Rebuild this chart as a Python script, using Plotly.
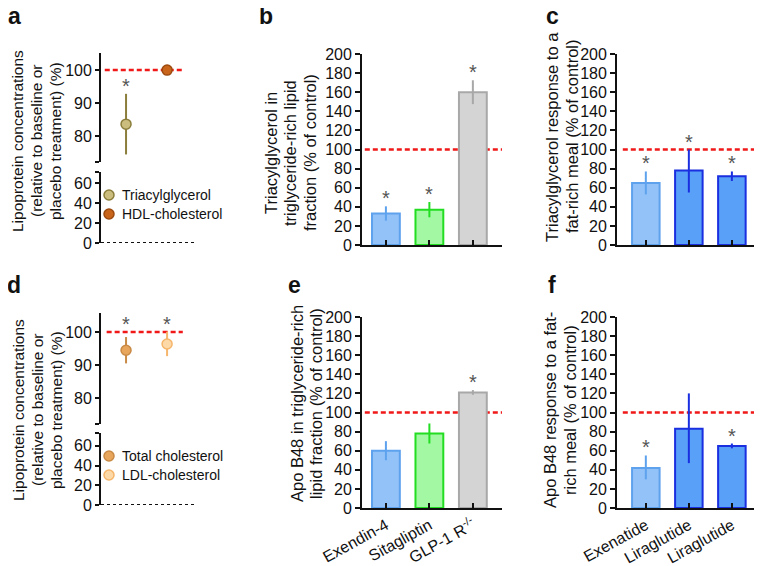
import plotly.graph_objects as go

# the page body adds an 8px margin, so the figure is a bit smaller than the window
OFF = 8
W, H = 762 - OFF, 566 - OFF

# ---- data ----
# panel a
a_names = ['Triacylglycerol', 'HDL-cholesterol']
a_vals = [83.6, 100]
a_err = [9.2, 1.0]
a_star = [True, False]

# panel d
d_names = ['Total cholesterol', 'LDL-cholesterol']
d_vals = [94.5, 96.4]
d_err = [4.0, 3.7]
d_star = [True, True]

# panels b / e
be_cats = ['Exendin-4', 'Sitagliptin', 'GLP-1 R<sup>-/-</sup>']
b_vals = [33, 37, 160]
b_err = [7.5, 8, 12.5]
b_star = [True, True, True]
e_vals = [60, 78, 121]
e_err = [10, 10.5, 2.5]
e_star = [False, False, True]

# panels c / f
cf_cats = ['Exenatide', 'Liraglutide', 'Liraglutide']
c_vals = [65, 78, 72]
c_err_up = [12, 22, 5]
c_err_dn = [12, 23, 5]
c_star = [True, True, True]
f_vals = [42, 83, 65]
f_err_up = [13, 37, 2.5]
f_err_dn = [12, 36, 2.5]
f_star = [True, False, True]

y_ticks = list(range(0, 201, 20))

# ---- styles ----
FONT = 'Arial, Liberation Sans, sans-serif'
a_fill = ['#cbbd7e', '#c8651b']
a_line = ['#8b7d3a', '#9c4a0e']
d_fill = ['#e8a55c', '#fdd9a8']
d_line = ['#c98a45', '#f5b56a']
be_fill = ['#93c2f8', '#a3f9a3', '#d4d4d4']
be_line = ['#5ea2ee', '#22dd22', '#a8a8a8']
cf_fill = ['#93c2f8', '#58a0f8', '#58a0f8']
cf_line = ['#5ea2ee', '#1a2fe0', '#1a2fe0']


def px(p):
    return (p - OFF) / W


def py(p):
    return 1 - (p - OFF) / H


def xd(p0, p1):
    return [px(p0), min(px(p1), 1)]


def yd(top, bottom):
    return [py(bottom), py(top)]


fig = go.Figure()

# scatter panels a and d
for names, vals, errs, fills, lines, xa, ya in [
    (a_names, a_vals, a_err, a_fill, a_line, 'x', 'y'),
    (d_names, d_vals, d_err, d_fill, d_line, 'x2', 'y3'),
]:
    for i, n in enumerate(names):
        fig.add_trace(go.Scatter(
            x=[i + 1], y=[vals[i]], mode='markers', name=n, showlegend=False,
            xaxis=xa, yaxis=ya,
            marker=dict(size=10, color=fills[i], line=dict(color=lines[i], width=1.5)),
            error_y=dict(type='data', array=[errs[i]], color=lines[i], thickness=2, width=0),
        ))

# bar panels
for cats, vals, up, dn, fills, lines, xa, ya in [
    (be_cats, b_vals, b_err, b_err, be_fill, be_line, 'x3', 'y5'),
    (cf_cats, c_vals, c_err_up, c_err_dn, cf_fill, cf_line, 'x4', 'y6'),
    (be_cats, e_vals, e_err, e_err, be_fill, be_line, 'x5', 'y7'),
    (cf_cats, f_vals, f_err_up, f_err_dn, cf_fill, cf_line, 'x6', 'y8'),
]:
    for i in range(len(cats)):
        fig.add_trace(go.Bar(
            x=[i], y=[vals[i]], width=0.64, showlegend=False, xaxis=xa, yaxis=ya,
            marker=dict(color=fills[i], line=dict(color=lines[i], width=2)),
            error_y=dict(type='data', array=[up[i]], arrayminus=[dn[i]],
                         color=lines[i], thickness=2, width=0),
        ))

axis_common = dict(showgrid=False, zeroline=False, showline=True, linecolor='#111',
                   linewidth=1.8, ticks='outside', ticklen=5, tickwidth=1.8, tickcolor='#111',
                   tickfont=dict(family=FONT, size=16, color='#111'), fixedrange=True,
                   automargin=False)
hidden_x = dict(showgrid=False, zeroline=False, showline=False, showticklabels=False,
                ticks='', range=[0.39, 2.68], domain=xd(101, 195), automargin=False)

layout = dict(
    width=W, height=H, margin=dict(l=0, r=0, t=0, b=0),
    paper_bgcolor='white', plot_bgcolor='white', barmode='overlay',
    font=dict(family=FONT, color='#111'),
    xaxis=dict(hidden_x, anchor='y2'),
    yaxis=dict(axis_common, domain=yd(53, 162), range=[72.1, 105.2], anchor='x',
               tickvals=[72.1, 80, 90, 100], ticktext=['', '80', '90', '100'], ticklen=4),
    yaxis2=dict(axis_common, domain=yd(172, 243), range=[0, 71], anchor='x',
                tickvals=[0, 20, 40, 60, 71], ticktext=['0', '20', '40', '60', ''], ticklen=4),
    xaxis2=dict(hidden_x, anchor='y4'),
    yaxis3=dict(axis_common, domain=yd(313, 424), range=[72.1, 105.8], anchor='x2',
                tickvals=[72.1, 80, 90, 100], ticktext=['', '80', '90', '100'], ticklen=4),
    yaxis4=dict(axis_common, domain=yd(433, 505), range=[0, 73], anchor='x2',
                tickvals=[0, 20, 40, 60, 73], ticktext=['0', '20', '40', '60', ''], ticklen=4),
)

bar_axes = [
    ('xaxis3', 'yaxis5', 'x3', 'y5', xd(362, 502), yd(54, 245), [-0.55, 2.67], be_cats, False),
    ('xaxis4', 'yaxis6', 'x4', 'y6', xd(617, 762), yd(54, 245), [-0.67, 2.7], cf_cats, False),
    ('xaxis5', 'yaxis7', 'x5', 'y7', xd(362, 502), yd(317, 508), [-0.55, 2.67], be_cats, True),
    ('xaxis6', 'yaxis8', 'x6', 'y8', xd(617, 762), yd(317, 508), [-0.67, 2.7], cf_cats, True),
]
for xk, yk, xa, ya, xdom, ydom, xr, cats, labels in bar_axes:
    layout[xk] = dict(axis_common, domain=xdom, range=xr, anchor=ya, ticks='inside',
                      tickvals=list(range(len(cats))), ticktext=cats,
                      showticklabels=labels, tickangle=-29)
    layout[yk] = dict(axis_common, domain=ydom, range=[0, 200], anchor=xa,
                      tickvals=y_ticks)

fig.update_layout(**layout)

# red dashed reference lines at 100%
red = dict(color='#f01818', width=2.5, dash='5px,3px')
for xa, ya, x0 in [('x', 'y', 0.04), ('x2', 'y3', 0.06), ('x3', 'y5', 0.02),
                   ('x4', 'y6', 0.04), ('x5', 'y7', 0.02), ('x6', 'y8', 0.04)]:
    x1 = 0.87 if xa in ('x', 'x2') else 1
    fig.add_shape(type='line', xref=xa + ' domain', yref=ya, x0=x0, x1=x1, y0=100, y1=100,
                  line=red, layer='below')

# dotted baselines for panels a and d
for xa, ya in [('x', 'y2'), ('x2', 'y4')]:
    fig.add_shape(type='line', xref=xa + ' domain', yref=ya, x0=0, x1=1, y0=0, y1=0,
                  line=dict(color='#111', width=2, dash='dot'))

# significance stars
star_font = dict(family=FONT, size=20, color='#555')
for vals, errs, stars, xa, ya in [(a_vals, a_err, a_star, 'x', 'y')]:
    for i, s in enumerate(stars):
        if s:
            fig.add_annotation(x=i + 1, y=vals[i] + errs[i], xref=xa, yref=ya, text='*',
                               showarrow=False, yanchor='bottom', yshift=-5, font=star_font)
for stars, xa, ya in [(d_star, 'x2', 'y3')]:
    for i, s in enumerate(stars):
        if s:
            fig.add_annotation(x=i + 1, y=100, xref=xa, yref=ya, text='*',
                               showarrow=False, yanchor='bottom', yshift=-5, font=star_font)
for vals, up, stars, xa, ya in [(b_vals, b_err, b_star, 'x3', 'y5'),
                                (c_vals, c_err_up, c_star, 'x4', 'y6'),
                                (e_vals, e_err, e_star, 'x5', 'y7'),
                                (f_vals, f_err_up, f_star, 'x6', 'y8')]:
    for i, s in enumerate(stars):
        if s:
            fig.add_annotation(x=i, y=vals[i] + up[i], xref=xa, yref=ya, text='*',
                               showarrow=False, yanchor='bottom', yshift=-5, font=star_font)

# manual legends for a and d
for names, fills, lines, y0 in [(a_names, a_fill, a_line, 195), (d_names, d_fill, d_line, 456)]:
    for i, n in enumerate(names):
        yy = py(y0 + 19 * i)
        fig.add_shape(type='circle', xref='paper', yref='paper', xsizemode='pixel',
                      ysizemode='pixel', xanchor=px(109), yanchor=yy, x0=-5, x1=5, y0=-5, y1=5,
                      fillcolor=fills[i], line=dict(color=lines[i], width=1.5))
        fig.add_annotation(x=px(120), y=yy, xref='paper', yref='paper', text=n,
                           showarrow=False, xanchor='left', yanchor='middle',
                           font=dict(family=FONT, size=14, color='#111'))

# y axis titles, one annotation per line to get the tight line spacing
ad_lines = ['Lipoprotein concentrations', '(relative to baseline or', 'placebo treatment) (%)']
titles = [
    (ad_lines, [18, 37, 56], 141, 15.5),
    (ad_lines, [18, 37, 56], 410, 15.5),
    (['Triacylglycerol in', 'triglyceride-rich lipid', 'fraction (% of control)'],
     [271, 290, 310], 153, 16.5),
    (['Triacylglycerol response to a', 'fat-rich meal (% of control)'], [552, 572], 137, 16.5),
    (['Apo B48 in triglyceride-rich', 'lipid fraction (% of control)'], [297, 316], 404, 16.5),
    (['Apo B48 response to a fat-', 'rich meal (% of control)'], [550, 570], 410, 16.5),
]
for lines_, xs, ty, size in titles:
    for t, tx in zip(lines_, xs):
        fig.add_annotation(x=px(tx), y=py(ty), xref='paper', yref='paper', text=t,
                           textangle=-90, showarrow=False,
                           font=dict(family=FONT, size=size, color='#111'),
                           xanchor='center', yanchor='middle')

# panel letters
for letter, lx, ly in [('a', 14, 16), ('b', 266, 16), ('c', 552, 16),
                       ('d', 14, 285), ('e', 294, 285), ('f', 552, 285)]:
    fig.add_annotation(x=px(lx), y=py(ly), xref='paper', yref='paper',
                       text='<b>' + letter + '</b>', showarrow=False,
                       xanchor='center', yanchor='middle',
                       font=dict(family=FONT, size=23, color='#111'))

fig.write_html("out.html")
